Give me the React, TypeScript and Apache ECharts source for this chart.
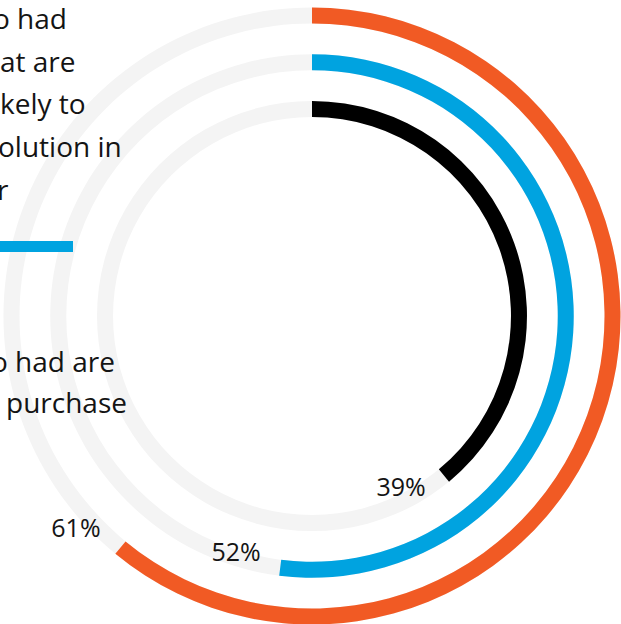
import React, { useEffect, useRef } from "react";
import * as echarts from "echarts";

// inner ring to outer ring
const categories = ["black", "blue", "orange"];
const values = [39, 52, 61];
const colors = ["#000000", "#00a3e0", "#f15a24"];
const trackMax = 100;

const block1Lines = ["o had", "at are", "kely to", "olution in", "r"];
const block2Lines = ["o had are", "purchase"];

export default function App() {
  const ref = useRef<HTMLDivElement>(null);

  useEffect(() => {
    if (!ref.current) return;
    const chart = echarts.init(ref.current, null, { renderer: "svg" });

    const font = '"Open Sans", sans-serif';
    const textColor = "#141414";

    const b1x = [-7, 0, 0, -2, -3];
    const b1y = [18, 60.5, 103, 146, 188.5];
    const b2x = [-9, 6];
    const b2y = [360.5, 402];

    const labelOffsets = [
      [-10.7, -11.4],
      [2.5, -6.6],
      [-4.5, 19],
    ];

    const graphic: any[] = [];
    block1Lines.forEach((t, i) => {
      graphic.push({
        type: "text",
        x: b1x[i],
        y: b1y[i],
        z: 100,
        style: { text: t, fontSize: 28, fontFamily: font, fill: textColor, verticalAlign: "middle", align: "left" },
      });
    });
    block2Lines.forEach((t, i) => {
      graphic.push({
        type: "text",
        x: b2x[i],
        y: b2y[i],
        z: 100,
        style: { text: t, fontSize: 28, fontFamily: font, fill: textColor, verticalAlign: "middle", align: "left" },
      });
    });
    graphic.push({
      type: "rect",
      z: 100,
      shape: { x: 0, y: 241, width: 73, height: 11 },
      style: { fill: colors[1] },
    });

    chart.setOption({
      animation: false,
      polar: { center: [312, 316], radius: [183.6, 323.9] },
      angleAxis: {
        type: "value",
        min: 0,
        max: trackMax,
        startAngle: 90,
        clockwise: true,
        show: false,
      },
      radiusAxis: {
        type: "category",
        data: categories,
        show: false,
      },
      graphic,
      series: [
        {
          type: "bar",
          coordinateSystem: "polar",
          data: categories.map(() => trackMax),
          barWidth: 16,
          barGap: "-100%",
          itemStyle: { color: "#f4f4f4" },
          silent: true,
        },
        {
          type: "bar",
          coordinateSystem: "polar",
          data: values.map((v, i) => ({ value: v, itemStyle: { color: colors[i] } })),
          barWidth: 16,
          barGap: "-100%",
        },
        {
          type: "scatter",
          coordinateSystem: "polar",
          symbolSize: 0,
          itemStyle: { opacity: 1 },
          data: values.map((v, i) => ({
            value: [categories[i], v + 3],
            label: { offset: labelOffsets[i] },
          })),
          label: {
            show: true,
            position: "inside",
            formatter: (p: any) => values[p.dataIndex] + "%",
            fontSize: 25,
            fontFamily: font,
            color: textColor,
          },
          z: 5,
        },
      ],
    });

    return () => chart.dispose();
  }, []);

  return (
    <div
      ref={ref}
      style={{ position: "absolute", left: 0, top: 0, width: 621, height: 624 }}
    />
  );
}
